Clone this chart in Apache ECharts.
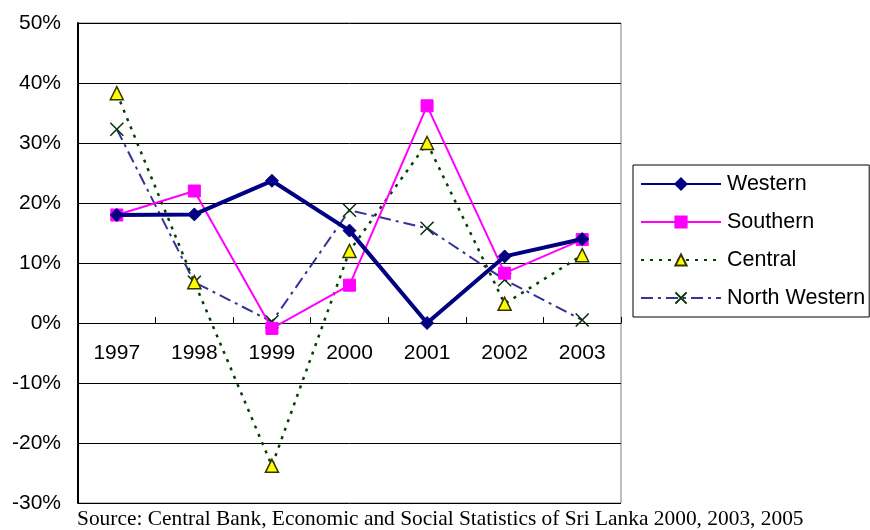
<!DOCTYPE html>
<html>
<head>
<meta charset="utf-8">
<script src="https://cdn.jsdelivr.net/npm/echarts@6/dist/echarts.min.js"></script>
<style>
  html, body { margin: 0; padding: 0; background: #ffffff; }
  #chart { width: 870px; height: 530px; }
</style>
</head>
<body>
<div id="chart"></div>
<script>
// Annual growth by province, per cent
const years = ['1997', '1998', '1999', '2000', '2001', '2002', '2003'];
const western = [18.0, 18.1, 23.7, 15.4, 0.0, 11.1, 14.0];
const southern = [18.0, 22.0, -0.9, 6.3, 36.2, 8.3, 13.9];
const central = [38.3, 6.8, -23.8, 12.0, 30.0, 3.2, 11.3];
const northWestern = [32.3, 6.8, 0.2, 18.8, 15.8, 7.2, 0.5];
const yTicks = { min: -30, max: 50, step: 10 };
const sourceNote = 'Source: Central Bank, Economic and Social Statistics of Sri Lanka 2000, 2003, 2005';

const crossPath = 'path://M0,0L10,10M10,0L0,10';
const font = 'Arial, "Liberation Sans", sans-serif';

// plot rectangle
const gridTop = 23, gridBottomY = 503;
const zeroY = gridTop + (gridBottomY - gridTop) * (yTicks.max - 0) / (yTicks.max - yTicks.min);

const chart = echarts.init(document.getElementById('chart'), null, { renderer: 'canvas' });

chart.setOption({
  animation: false,
  backgroundColor: '#ffffff',
  title: {
    text: sourceNote,
    left: 77,
    top: 509,
    padding: 0,
    textStyle: {
      fontFamily: '"Liberation Serif", "Times New Roman", serif',
      fontSize: 21.4,
      fontWeight: 'normal',
      color: '#000000'
    }
  },
  grid: {
    left: 78,
    right: 249,
    top: gridTop,
    bottom: 530 - gridBottomY,
    containLabel: false,
    outerBoundsMode: 'none',
    show: true,
    borderColor: '#808080',
    borderWidth: 1,
    backgroundColor: 'transparent'
  },
  legend: {
    orient: 'vertical',
    left: 633,
    top: 165,
    padding: [8, 4, 8, 7],
    itemWidth: 80,
    itemHeight: 14,
    itemGap: 16,
    borderColor: '#000000',
    borderWidth: 1,
    backgroundColor: '#ffffff',
    textStyle: { fontFamily: font, fontSize: 21.5, lineHeight: 22, color: '#000000', padding: [0, 0, 0, 1] },
    data: ['Western', 'Southern', 'Central', 'North Western']
  },
  xAxis: {
    type: 'category',
    data: years,
    boundaryGap: true,
    position: 'bottom',
    offset: -(gridBottomY - zeroY),
    axisLine: { onZero: false, lineStyle: { color: '#000000', width: 1 } },
    axisTick: { show: true, inside: true, length: 6, lineStyle: { color: '#000000' } },
    axisLabel: { fontFamily: font, fontSize: 21, color: '#000000', margin: 20 },
    splitLine: { show: false }
  },
  yAxis: {
    type: 'value',
    min: yTicks.min,
    max: yTicks.max,
    interval: yTicks.step,
    axisLine: { show: true, lineStyle: { color: '#000000', width: 2 } },
    axisTick: { show: false },
    axisLabel: { fontFamily: font, fontSize: 21, color: '#000000', margin: 17, formatter: '{value}%' },
    splitLine: { show: true, lineStyle: { color: '#000000', width: 1 } }
  },
  series: [
    {
      name: 'Western',
      type: 'line',
      data: western,
      symbol: 'diamond',
      symbolSize: 13,
      lineStyle: { color: '#000080', width: 4 },
      itemStyle: { color: '#000080', borderColor: '#000080', borderWidth: 1 },
      z: 5
    },
    {
      name: 'Southern',
      type: 'line',
      data: southern,
      symbol: 'rect',
      symbolSize: 12,
      lineStyle: { color: '#ff00ff', width: 2 },
      itemStyle: { color: '#ff00ff', borderColor: '#ff00ff', borderWidth: 1 },
      z: 4
    },
    {
      name: 'Central',
      type: 'line',
      data: central,
      symbol: 'triangle',
      symbolSize: 13,
      lineStyle: { color: '#004000', width: 2.5, type: [3, 6] },
      itemStyle: { color: '#ffff00', borderColor: '#333300', borderWidth: 1.5 },
      z: 3
    },
    {
      name: 'North Western',
      type: 'line',
      data: northWestern,
      symbol: crossPath,
      symbolSize: 13,
      lineStyle: { color: '#333399', width: 2, type: [12, 5, 3, 5] },
      itemStyle: { color: 'transparent', borderColor: '#003300', borderWidth: 1.5 },
      z: 2
    }
  ]
});
</script>
</body>
</html>
